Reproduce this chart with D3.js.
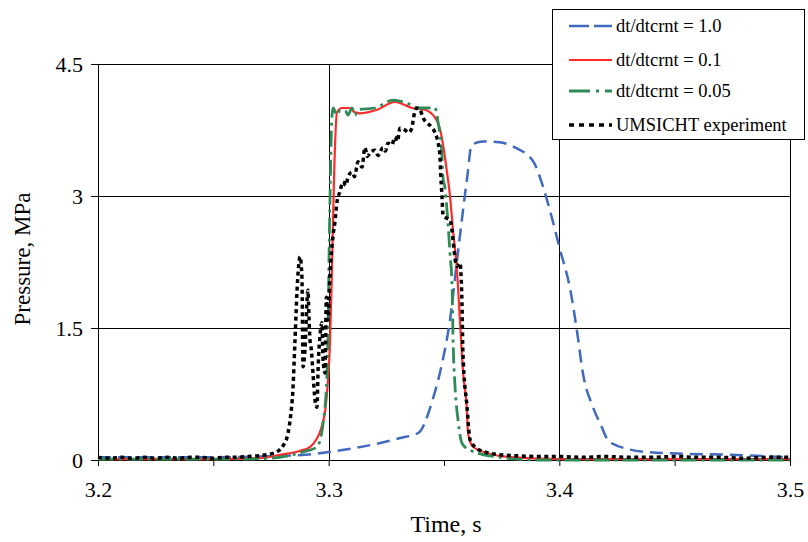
<!DOCTYPE html>
<html>
<head>
<meta charset="utf-8">
<script src="https://cdn.jsdelivr.net/npm/d3@7"></script>
<style>
  body { margin: 0; background: #fff; }
  svg { display: block; }
  svg text { font-family: "Liberation Serif", "Times New Roman", serif; }
</style>
</head>
<body>
<script>
// values
var blueT = [3.2, 3.25, 3.27, 3.29, 3.3, 3.31, 3.32, 3.331, 3.339, 3.345, 3.3495, 3.3526, 3.356, 3.36, 3.362, 3.367, 3.374, 3.381, 3.389, 3.393, 3.397, 3.4, 3.405, 3.408, 3.41, 3.4146, 3.4176, 3.422, 3.438, 3.455, 3.4726, 3.5];
var blueP = [0.03, 0.03, 0.04, 0.06, 0.09, 0.13, 0.18, 0.25, 0.31, 0.68, 1.14, 1.59, 2.35, 3.2, 3.58, 3.62, 3.61, 3.55, 3.38, 3.10, 2.73, 2.42, 1.90, 1.40, 1.02, 0.60, 0.42, 0.2, 0.09, 0.07, 0.06, 0.03];

var redT = [3.2, 3.25, 3.27, 3.279, 3.287, 3.292, 3.297, 3.299, 3.3006, 3.3014, 3.3023, 3.3036, 3.3058, 3.309, 3.3114, 3.3136, 3.321, 3.3287, 3.3361, 3.3417, 3.3461, 3.3482, 3.3496, 3.3513, 3.3526, 3.3539, 3.3556, 3.3569, 3.3582, 3.36, 3.3604, 3.3626, 3.3686, 3.38, 3.40, 3.5];
var redP = [0.01, 0.01, 0.02, 0.06, 0.1, 0.15, 0.38, 0.68, 1.36, 2.12, 3.18, 3.95, 4.0, 4.0, 3.95, 3.94, 3.98, 4.07, 4.0, 3.98, 3.89, 3.77, 3.58, 3.27, 3.0, 2.61, 2.16, 1.59, 1.02, 0.53, 0.31, 0.15, 0.08, 0.03, 0.01, 0.01];

var greenT = [3.2, 3.26, 3.275, 3.2845, 3.29, 3.295, 3.2984, 3.2997, 3.3002, 3.3006, 3.3014, 3.3019, 3.3036, 3.3049, 3.3071, 3.3084, 3.3101, 3.3114, 3.3127, 3.3201, 3.3279, 3.3344, 3.3387, 3.3461, 3.3474, 3.3491, 3.3496, 3.3504, 3.3513, 3.3526, 3.3535, 3.3539, 3.3548, 3.3561, 3.3578, 3.3613, 3.3743, 3.39, 3.5];
var greenP = [0.01, 0.01, 0.02, 0.06, 0.1, 0.15, 0.6, 1.36, 2.39, 3.0, 3.9, 4.0, 3.92, 3.97, 3.97, 3.92, 4.0, 3.92, 3.98, 4.0, 4.09, 4.05, 4.0, 4.0, 3.84, 3.47, 3.2, 3.1, 2.84, 2.35, 1.97, 1.4, 0.83, 0.45, 0.19, 0.11, 0.03, 0.0, 0.0];

var expT = [3.2, 3.205, 3.21, 3.215, 3.22, 3.225, 3.23, 3.235, 3.24, 3.245, 3.25, 3.255, 3.26, 3.265, 3.27, 3.275, 3.278, 3.2802, 3.2824, 3.2835, 3.2845, 3.2854, 3.2863, 3.2876, 3.2884, 3.2889, 3.2897, 3.291, 3.2915, 3.2919, 3.2925, 3.2932, 3.2941, 3.2949, 3.2955, 3.2962, 3.2971, 3.2975, 3.2984, 3.299, 3.2997, 3.3006, 3.3019, 3.3027, 3.3036, 3.3049, 3.3062, 3.3075, 3.3084, 3.3101, 3.3112, 3.3123, 3.3127, 3.3145, 3.3157, 3.3168, 3.3179, 3.3201, 3.3214, 3.3235, 3.3246, 3.3257, 3.3274, 3.3287, 3.3298, 3.3309, 3.3331, 3.3344, 3.3361, 3.3366, 3.3383, 3.3396, 3.3409, 3.3426, 3.3448, 3.3461, 3.3474, 3.3482, 3.3486, 3.3491, 3.3496, 3.351, 3.3526, 3.3556, 3.3569, 3.3578, 3.3582, 3.36, 3.3613, 3.3656, 3.3743, 3.38, 3.39, 3.40, 3.41, 3.42, 3.43, 3.44, 3.45, 3.46, 3.47, 3.48, 3.49, 3.5];
var expP = [0.03, 0.02, 0.03, 0.02, 0.03, 0.02, 0.03, 0.02, 0.03, 0.03, 0.02, 0.03, 0.03, 0.04, 0.05, 0.07, 0.10, 0.16, 0.31, 0.5, 0.8, 1.36, 1.93, 2.31, 2.08, 1.06, 1.25, 1.93, 1.6, 1.36, 1.25, 0.99, 0.68, 0.6, 1.1, 1.4, 1.56, 1.17, 0.99, 1.85, 1.59, 2.12, 2.55, 2.7, 2.93, 3.05, 3.16, 3.12, 3.22, 3.27, 3.22, 3.35, 3.39, 3.33, 3.55, 3.45, 3.49, 3.52, 3.46, 3.55, 3.51, 3.6, 3.58, 3.67, 3.62, 3.77, 3.75, 3.72, 3.77, 3.86, 4.0, 3.98, 3.89, 3.83, 3.78, 3.72, 3.61, 3.47, 3.24, 3.01, 2.78, 2.75, 2.73, 2.2, 2.24, 1.78, 1.22, 0.6, 0.23, 0.11, 0.06, 0.05, 0.04, 0.04, 0.03, 0.04, 0.03, 0.03, 0.04, 0.03, 0.03, 0.02, 0.03, 0.03];

var seriesNames = ["dt/dtcrnt = 1.0", "dt/dtcrnt = 0.1", "dt/dtcrnt = 0.05", "UMSICHT experiment"];
var xTicks = [3.2, 3.25, 3.3, 3.35, 3.4, 3.45, 3.5];
var xLabels = [3.2, 3.3, 3.4, 3.5];
var yTicks = [0, 1.5, 3, 4.5];

var W = 808, H = 542,
    mL = 98, mR = 790, mT = 64, mB = 460,
    serif = "'Liberation Serif', 'Times New Roman', serif";

var svg = d3.select("body").append("svg").attr("width", W).attr("height", H);

var x = d3.scaleLinear().domain([3.2, 3.5]).range([mL, mR]),
    y = d3.scaleLinear().domain([0, 4.5]).range([mB, mT]);

// grid
svg.append("g").selectAll("line").data(yTicks.slice(1)).enter().append("line")
    .attr("x1", mL).attr("x2", mR)
    .attr("y1", function(d) { return Math.round(y(d)) + 0.5; })
    .attr("y2", function(d) { return Math.round(y(d)) + 0.5; })
    .attr("stroke", "#000").attr("stroke-width", 1);
svg.append("g").selectAll("line").data(xLabels.slice(1)).enter().append("line")
    .attr("y1", mT).attr("y2", mB)
    .attr("x1", function(d) { return Math.round(x(d)) + 0.5; })
    .attr("x2", function(d) { return Math.round(x(d)) + 0.5; })
    .attr("stroke", "#000").attr("stroke-width", 1);

// axes
var xAxis = d3.axisBottom(x).tickValues(xTicks).tickSize(6).tickPadding(15)
    .tickFormat(function(d) { return xLabels.some(function(v) { return Math.abs(v - d) < 1e-9; }) ? d3.format(".1f")(d) : ""; });
var gx = svg.append("g").attr("transform", "translate(0," + mB + ")").call(xAxis)
    .attr("font-family", null).attr("font-size", null);
gx.select(".domain").attr("d", "M" + mL + ",0.5H" + mR);
gx.selectAll("text").attr("fill", "#000").style("font-family", serif).style("font-size", "22px");

var yAxis = d3.axisLeft(y).tickValues(yTicks).tickSize(7).tickPadding(8)
    .tickFormat(function(d) { return d === 0 ? "0" : String(d); });
var gy = svg.append("g").attr("transform", "translate(" + mL + ",0)").call(yAxis)
    .attr("font-family", null).attr("font-size", null);
gy.select(".domain").attr("d", "M0.5," + mT + "V" + mB);
gy.selectAll("text").attr("fill", "#000").style("font-family", serif).style("font-size", "22px");

svg.append("text").attr("x", 446).attr("y", 532)
    .attr("text-anchor", "middle").style("font-size", "24px").text("Time, s");
svg.append("text").attr("transform", "translate(30,259) rotate(-90)")
    .attr("text-anchor", "middle").style("font-size", "23px").text("Pressure, MPa");

// series
var line = d3.line().x(function(d) { return x(d[0]); }).y(function(d) { return y(d[1]); })
    .curve(d3.curveMonotoneX);
function pts(t, p) { return t.map(function(v, i) { return [v, p[i]]; }); }

var styles = [
  { c: "#4169c0", w: 2.5, dash: "13,7", data: pts(blueT, blueP) },
  { c: "#ff2a2a", w: 2.2, dash: null, data: pts(redT, redP) },
  { c: "#2e8b57", w: 2.8, dash: "16,5,3,5", data: pts(greenT, greenP) },
  { c: "#000000", w: 3.5, dash: "4,3.5", data: pts(expT, expP) }
];

svg.append("g").selectAll("path").data(styles).enter().append("path")
    .attr("d", function(d) { return line(d.data); })
    .attr("fill", "none")
    .attr("stroke", function(d) { return d.c; })
    .attr("stroke-width", function(d) { return d.w; })
    .attr("stroke-dasharray", function(d) { return d.dash; });

// legend
var lg = svg.append("g");
lg.append("rect").attr("x", 552.5).attr("y", 9.5).attr("width", 252).attr("height", 130)
    .attr("fill", "#fff").attr("stroke", "#000").attr("stroke-width", 1);
var legDash = ["20,5", null, "21,6,3,6", "5,5"];
var legY = [26, 60, 91, 125];
styles.forEach(function(s, i) {
    lg.append("line").attr("x1", 569).attr("x2", 612).attr("y1", legY[i]).attr("y2", legY[i])
        .attr("stroke", s.c).attr("stroke-width", s.w).attr("stroke-dasharray", legDash[i]);
    lg.append("text").attr("x", 616).attr("y", legY[i]).attr("dy", "0.35em")
        .style("font-size", "18.5px").text(seriesNames[i]);
});
</script>
</body>
</html>
